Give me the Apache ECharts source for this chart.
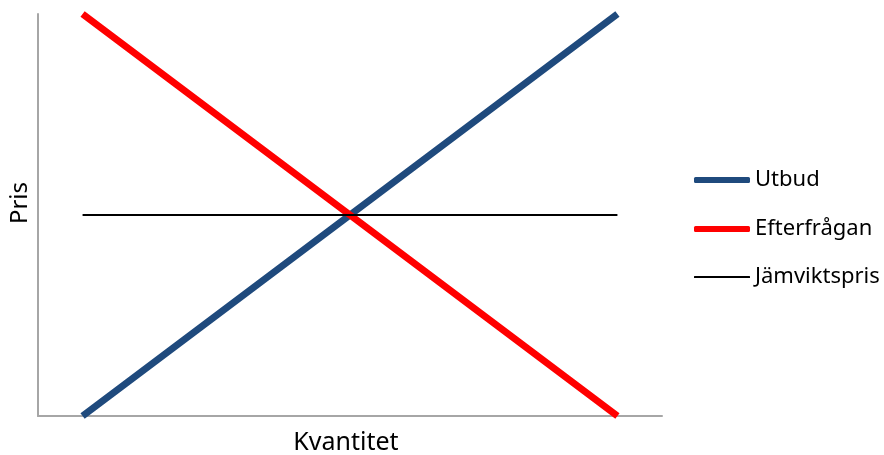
<!DOCTYPE html>
<html>
<head>
<meta charset="utf-8">
<script src="https://cdn.jsdelivr.net/npm/echarts@6/dist/echarts.min.js"></script>
<style>
  html, body { margin: 0; padding: 0; background: #fff; }
  #chart { width: 884px; height: 455px; }
</style>
</head>
<body>
<div id="chart"></div>
<script>
// Supply / demand diagram: quantity steps and price levels
const categories = ['1', '2', '3', '4', '5', '6', '7'];
const utbud = [0, 1, 2, 3, 4, 5, 6];
const efterfragan = [6, 5, 4, 3, 2, 1, 0];
const jamviktspris = [3, 3, 3, 3, 3, 3, 3];

const FONT = 'Noto Sans';
const BLUE = '#1F4A7D';
const RED = '#FF0000';

function legendFor(name, top, height) {
  return {
    data: [name],
    left: 694,
    top: top,
    orient: 'vertical',
    icon: 'roundRect',
    itemWidth: 56,
    itemHeight: height,
    itemGap: 0,
    padding: 0,
    textStyle: { fontFamily: FONT, fontSize: 22, color: '#000' }
  };
}

const chart = echarts.init(document.getElementById('chart'));
chart.setOption({
  animation: false,
  grid: { left: 38, top: 14, width: 624, height: 402, containLabel: false, outerBoundsMode: 'none' },
  legend: [
    legendFor('Utbud', 169, 6),
    legendFor('Efterfrågan', 218, 6),
    legendFor('Jämviktspris', 266, 2)
  ],
  xAxis: {
    type: 'category',
    data: categories,
    boundaryGap: true,
    name: 'Kvantitet',
    nameLocation: 'middle',
    nameGap: 14,
    nameTextStyle: { fontFamily: FONT, fontSize: 25, color: '#000', padding: [0, 8, 0, 0] },
    axisLine: { lineStyle: { color: '#A6A6A6', width: 2 } },
    axisTick: { show: false },
    axisLabel: { show: false },
    splitLine: { show: false }
  },
  yAxis: {
    type: 'value',
    min: 0,
    max: 6,
    name: 'Pris',
    nameLocation: 'middle',
    nameRotate: 90,
    nameGap: 6,
    nameTextStyle: { fontFamily: FONT, fontSize: 24, color: '#000', padding: [0, 0, 0, 24] },
    axisLine: { show: true, lineStyle: { color: '#A6A6A6', width: 2 } },
    axisTick: { show: false },
    axisLabel: { show: false },
    splitLine: { show: false }
  },
  series: [
    {
      name: 'Utbud', type: 'line', data: utbud, symbol: 'none',
      itemStyle: { color: BLUE },
      lineStyle: { color: BLUE, width: 7 }
    },
    {
      name: 'Efterfrågan', type: 'line', data: efterfragan, symbol: 'none',
      itemStyle: { color: RED },
      lineStyle: { color: RED, width: 7 }
    },
    {
      name: 'Jämviktspris', type: 'line', data: jamviktspris, symbol: 'none',
      itemStyle: { color: '#000' },
      lineStyle: { color: '#000', width: 2 }
    }
  ]
});
</script>
</body>
</html>
